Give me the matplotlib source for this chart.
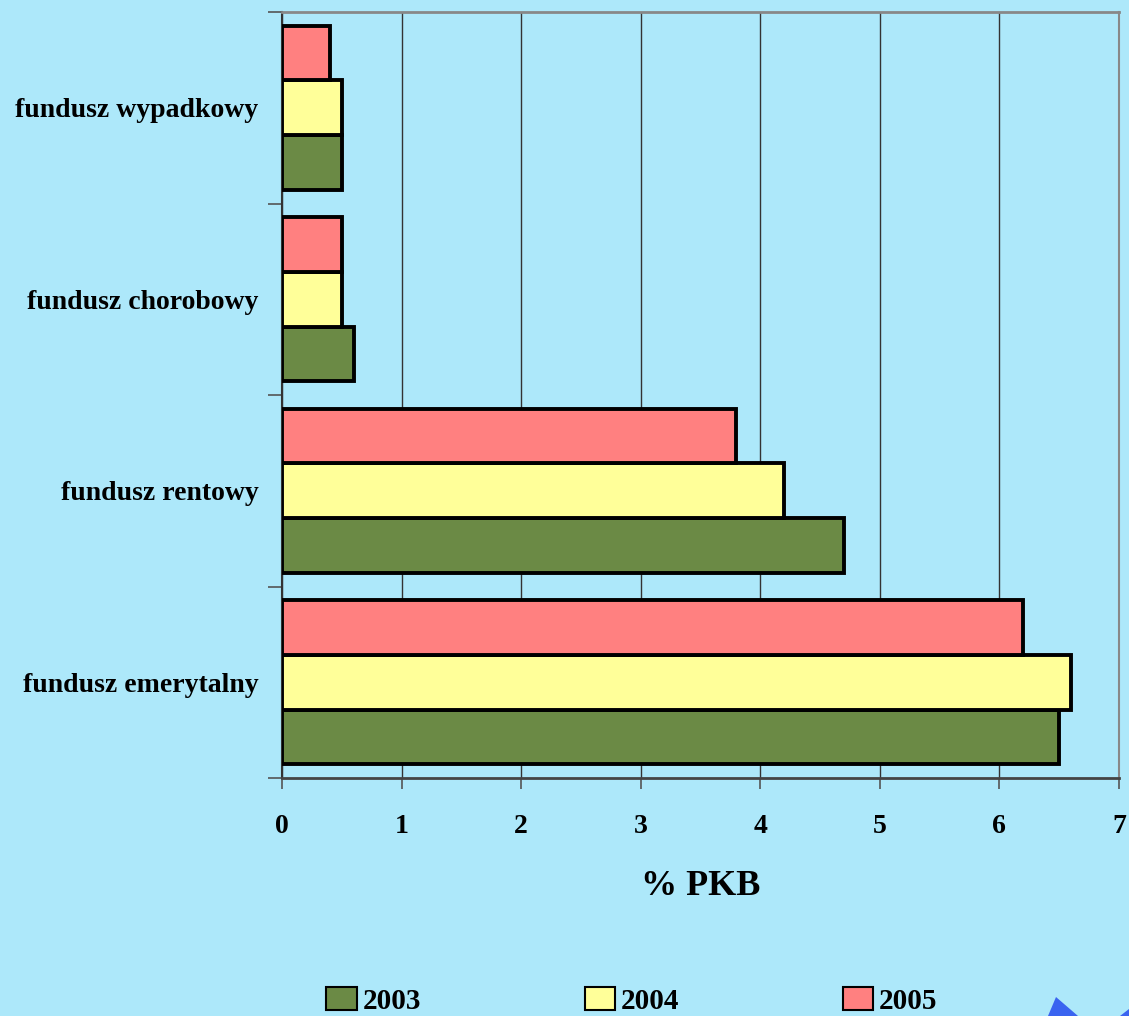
import numpy as np
import matplotlib.pyplot as plt
from matplotlib.patches import Patch, Polygon

# dane (% PKB)
categories = ['fundusz emerytalny', 'fundusz rentowy', 'fundusz chorobowy', 'fundusz wypadkowy']
years = ['2003', '2004', '2005']
values_2003 = [6.5, 4.7, 0.6, 0.5]
values_2004 = [6.6, 4.2, 0.5, 0.5]
values_2005 = [6.2, 3.8, 0.5, 0.4]
colors = ['#6b8a45', '#ffff99', '#ff8080']

W, H = 1129, 1016
plt.rcParams['font.family'] = ['Liberation Serif', 'DejaVu Serif']
plt.rcParams['font.weight'] = 'bold'

fig = plt.figure(figsize=(W / 100, H / 100), dpi=100, facecolor='#ade8fa')

# niebieski kształt w rogu
fig.patches.append(Polygon([[1048 / W, 0], [1056 / W, 19 / H], [1078 / W, 0]], closed=True,
                           transform=fig.transFigure, facecolor='#3a64f0', edgecolor='none'))
fig.patches.append(Polygon([[1120 / W, 0], [1, 7 / H], [1, 0]], closed=True,
                           transform=fig.transFigure, facecolor='#3a64f0', edgecolor='none'))

ax = fig.add_axes([282 / W, 1 - 778 / H, (1119 - 282) / W, (778 - 12) / H])
ax.patch.set_alpha(0)

y = np.arange(len(categories))
h = 0.286
series = [values_2003, values_2004, values_2005]
for i, vals in enumerate(series):
    ax.barh(y + (i - 1) * h, vals, height=h, color=colors[i],
            edgecolor='black', linewidth=2.8, zorder=3)

ax.set_xlim(0, 7)
ax.set_ylim(-0.5, len(categories) - 0.5)
ax.set_xticks(range(8))
ax.xaxis.grid(True, color='#333333', linewidth=1)
ax.set_axisbelow(True)

ax.set_yticks(np.arange(-0.5, len(categories), 1))
ax.set_yticklabels([])
ax.set_yticks(y, minor=True)
ax.set_yticklabels(categories, minor=True, fontsize=20, fontweight='bold')
ax.tick_params(axis='y', which='minor', length=0, pad=17)
ax.tick_params(axis='y', which='major', length=10, color='#555555', width=1.2)
ax.tick_params(axis='x', length=8, color='#555555', width=1.2, labelsize=20, pad=18)
for lab in ax.get_xticklabels():
    lab.set_fontweight('bold')

ax.spines['left'].set_color('#333333')
ax.spines['left'].set_linewidth(1.5)
ax.spines['bottom'].set_color('#444444')
ax.spines['bottom'].set_linewidth(2)
ax.spines['top'].set_color('#888888')
ax.spines['top'].set_linewidth(2)
ax.spines['right'].set_color('#888888')
ax.spines['right'].set_linewidth(1.5)

ax.set_xlabel('% PKB', fontsize=26, fontweight='bold', labelpad=22)

handles = [Patch(facecolor=colors[i], edgecolor='black', linewidth=1.5) for i in range(3)]
fig.legend(handles, years, loc='center', bbox_to_anchor=(632 / W, 15 / H), ncol=3,
           frameon=False, prop={'size': 21, 'weight': 'bold'}, borderpad=0,
           handlelength=1.05, handleheight=0.85, handletextpad=0.2, columnspacing=5.6)

fig.savefig('out.png', dpi=100, facecolor=fig.get_facecolor())
